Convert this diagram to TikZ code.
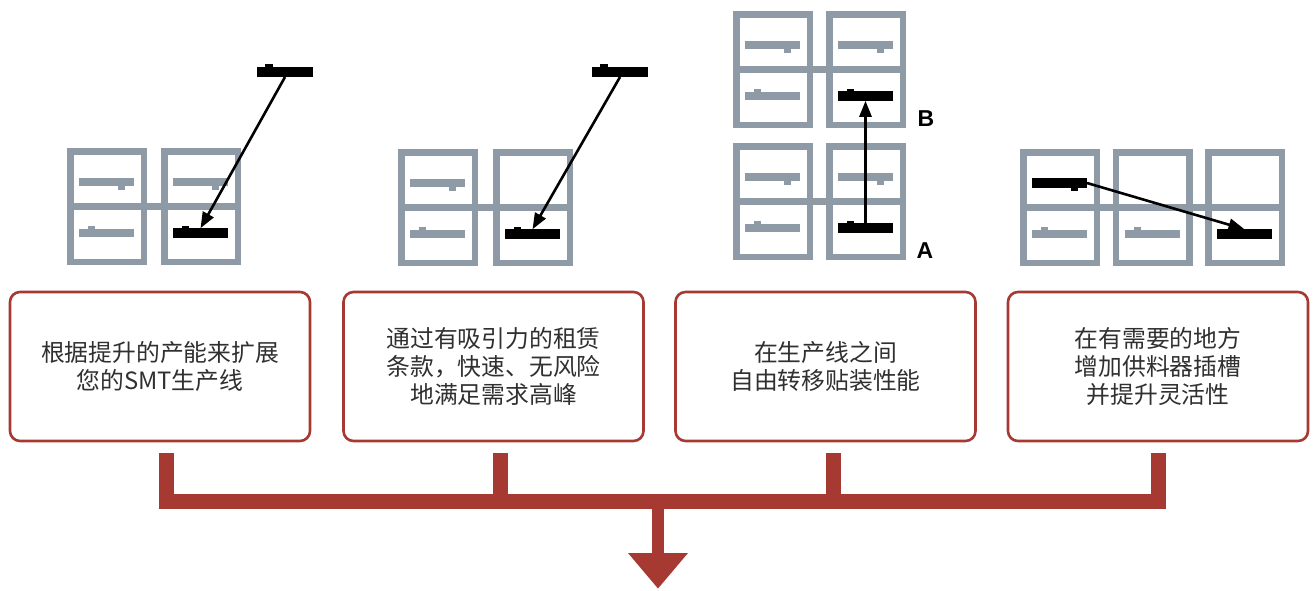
\documentclass[tikz,border=0pt]{standalone}
\usepackage{fontspec}
\newfontfamily\cjk{Noto Sans CJK SC}
\newfontfamily\labfont{Liberation Sans}
\usetikzlibrary{arrows.meta,calc}
\definecolor{gridgray}{HTML}{8E9AA5}
\definecolor{boxred}{HTML}{A63A33}
\definecolor{txt}{HTML}{303030}
\tikzset{
  fbar/.style={rectangle, inner sep=0pt, outer sep=0pt, minimum width=55pt, minimum height=8.5pt},
  kbar/.style={fbar, fill=black, minimum height=9.5pt},
  gbar/.style={fbar, fill=gridgray},
  mv/.style={line width=2.6pt, draw=black, -{Triangle[length=16pt,width=12pt]}},
  tbox/.style={draw=boxred, line width=2.6pt, rounded corners=10pt, minimum width=300pt,
    minimum height=149pt, align=center, inner sep=0pt, text=txt,
    font=\cjk\fontsize{23.8}{28}\selectfont},
  redbar/.style={draw=boxred, line width=15pt, line join=miter, line cap=butt},
  lab/.style={font=\labfont\bfseries\fontsize{23}{23}\selectfont, inner sep=0pt}
}
% grid of feeder slots: x0, top, number of columns, pitch
\newcommand\fgrid[4]{%
  \foreach \i in {1,...,#3}{%
    \pgfmathsetmacro\L{#1+(\i-1)*#4}%
    \fill[gridgray] (\L,#2) rectangle ({\L+80},{#2+117});
    \fill[white] ({\L+6.5},{#2+6.5}) rectangle ({\L+73.5},{#2+55});
    \fill[white] ({\L+6.5},{#2+62}) rectangle ({\L+73.5},{#2+110.5});
  }%
  \fill[gridgray] (#1,{#2+55}) rectangle ({#1+(#3-1)*#4+80},{#2+62});
}
% top-row feeder: L, T, name, style, colour
\newcommand\topbar[5]{%
  \node[#4] (#3) at ({#1+39.5},{#2+34}) {};
  \fill[#5] ({#1+51},{#2+37}) rectangle ({#1+58},{#2+41.5});
}
% bottom-row feeder: L, T, name, style, colour
\newcommand\botbar[5]{%
  \node[#4] (#3) at ({#1+39.5},{#2+85}) {};
  \fill[#5] ({#1+21},{#2+77.5}) rectangle ({#1+28},{#2+82});
}
\begin{document}
\begin{tikzpicture}[x=1pt,y=-1pt]
\useasboundingbox (0,0) rectangle (1314,590);
\fill[white] (0,0) rectangle (1314,590);

% ---------- panel 1
\fgrid{67}{148}{2}{94}
\topbar{67}{148}{g1a}{gbar}{gridgray}
\botbar{67}{148}{g1b}{gbar}{gridgray}
\topbar{161}{148}{g1c}{gbar}{gridgray}
\botbar{161}{148}{p1b}{kbar}{black}
\node[kbar, minimum width=56pt, minimum height=10pt] (p1a) at (285,72) {};
\fill[black] (265,63.5) rectangle (273,67);
\draw[mv] (p1a.south) -- (p1b.north);

% ---------- panel 2
\fgrid{398}{149}{2}{95}
\topbar{398}{149}{g2a}{gbar}{gridgray}
\botbar{398}{149}{g2b}{gbar}{gridgray}
\botbar{493}{149}{p2b}{kbar}{black}
\node[kbar, minimum width=56pt, minimum height=10pt] (p2a) at (620,72) {};
\fill[black] (600,63.5) rectangle (608,67);
\draw[mv] (p2a.south) -- (p2b.north);

% ---------- panel 3
\fgrid{733}{11}{2}{93}
\topbar{733}{11}{g3a}{gbar}{gridgray}
\botbar{733}{11}{g3b}{gbar}{gridgray}
\topbar{826}{11}{g3c}{gbar}{gridgray}
\botbar{826}{11}{p3B}{kbar}{black}
\fgrid{733}{143}{2}{93}
\topbar{733}{143}{g3d}{gbar}{gridgray}
\botbar{733}{143}{g3e}{gbar}{gridgray}
\topbar{826}{143}{g3f}{gbar}{gridgray}
\botbar{826}{143}{p3A}{kbar}{black}
\draw[mv] (p3A.north) -- (p3B.south);
\node[lab] (labB) at (926,119) {B};
\node[lab] (labA) at (925,251) {A};

% ---------- panel 4
\fgrid{1020}{149}{3}{92.5}
\topbar{1020}{149}{p4a}{kbar}{black}
\botbar{1020}{149}{g4a}{gbar}{gridgray}
\botbar{1112.5}{149}{g4b}{gbar}{gridgray}
\node[kbar] (p4b) at (1244.5,234) {};
\draw[mv] (p4a.east) -- (p4b.north);

% ---------- text boxes
\node[tbox] (b1) at (160,366.5) {根据提升的产能来扩展\\您的SMT生产线};
\node[tbox] (b2) at (493.5,366.5) {通过有吸引力的租赁\\条款，快速、无风险\\地满足需求高峰};
\node[tbox] (b3) at (825.5,366.5) {在生产线之间\\自由转移贴装性能};
\node[tbox] (b4) at (1158,366.5) {在有需要的地方\\增加供料器插槽\\并提升灵活性};

% ---------- red collector
\coordinate (j1) at (166,501.5);
\coordinate (j2) at (500,501.5);
\coordinate (j3) at (833,501.5);
\coordinate (j4) at (1158,501.5);
\coordinate (jm) at (658,501.5);
\draw[redbar] ($(b1.south -| j1)+(0,11)$) -- (j1) -- (j4) -- ($(b4.south -| j4)+(0,11)$);
\draw[redbar] ($(b2.south -| j2)+(0,11)$) -- (j2);
\draw[redbar] ($(b3.south -| j3)+(0,11)$) -- (j3);
\coordinate (tipbase) at ($(jm)+(0,51.5)$);
\coordinate (tip) at ($(jm)+(0,87)$);
\draw[boxred, line width=12pt] (jm) -- ($(tipbase)+(0,2)$);
\fill[boxred] ($(tipbase)+(-30,0)$) -- ($(tipbase)+(30,0)$) -- (tip) -- cycle;
\end{tikzpicture}
\end{document}
